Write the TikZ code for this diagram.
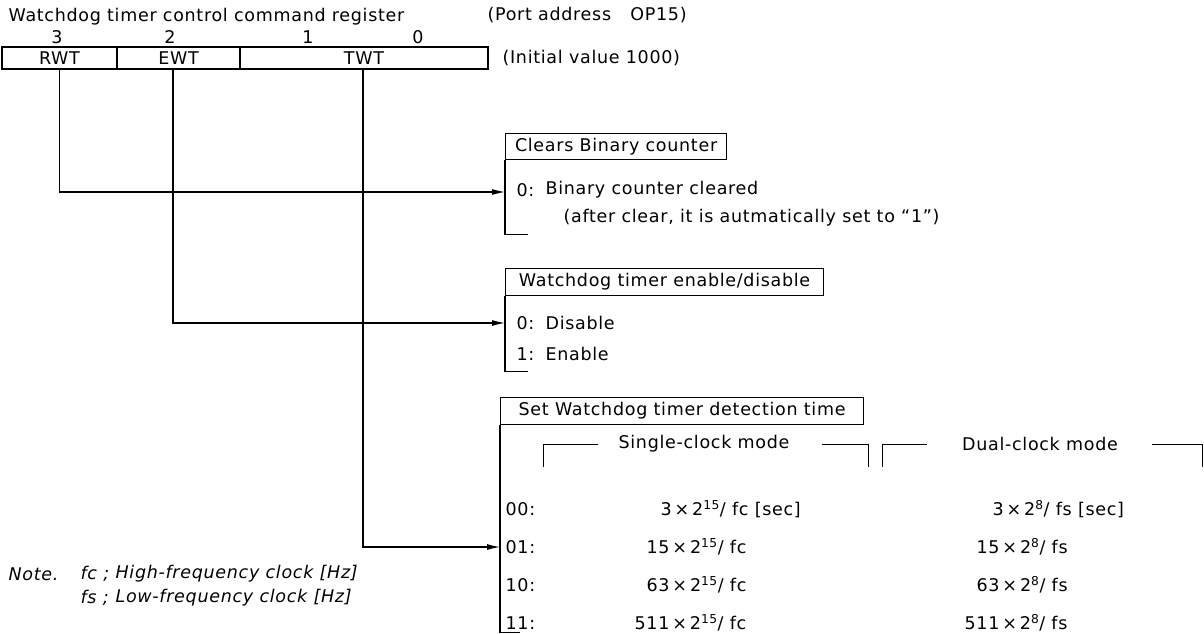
\documentclass[tikz,border=0pt]{standalone}
\usepackage{fontspec}
\setmainfont{DejaVu Sans}[LetterSpace=4]
\usetikzlibrary{arrows.meta}
\newcommand{\fsz}{\fontsize{17.5}{20}\selectfont}
\begin{document}
\begin{tikzpicture}[x=1pt,y=-1pt,line width=1.2pt,
  txt/.style={inner sep=0pt,anchor=west,font=\fsz},
  ctxt/.style={txt,anchor=center},
  itxt/.style={txt,font=\fsz\itshape},
  field/.style={draw,inner sep=0pt,minimum height=22pt,font=\fsz},
  hdr/.style={draw,inner sep=0pt,anchor=north west,font=\fsz},
  arr/.style={-{Latex[length=13pt,width=6pt]}},
  thin/.style={line width=1pt}]
\useasboundingbox (0,0) rectangle (1204,634);

% title
\node[txt] (title) at (8,17) {Watchdog timer control command register};
\node[txt] (port) at (487,15) {(Port address\hspace{1.1em}OP15)};

% bit numbers
\node[ctxt] (n3) at (57,37) {3};
\node[ctxt] (n2) at (170,37) {2};
\node[ctxt] (n1) at (308,37) {1};
\node[ctxt] (n0) at (418,37) {0};

% register
\node[field,minimum width=115pt] (rwt) at (59.5,58) {RWT};
\node[field,minimum width=123pt] (ewt) at (178.5,58) {EWT};
\node[field,minimum width=248pt] (twt) at (364,58) {TWT};
\node[txt] (init) at (502,58) {(Initial value 1000)};

% box 1
\node[hdr,minimum width=221pt,minimum height=26pt] (h1) at (505,133) {Clears Binary counter};
\draw (h1.south west) -- ++(0,74) -- ++(23,0);
\node[txt] (c0) at (516,190) {0:};
\node[txt] (c0t) at (545,190) {Binary counter cleared};
\node[txt] (c0n) at (563,218) {(after clear, it is autmatically set to “1”)};
\coordinate (b1in) at (505,192);

% box 2
\node[hdr,minimum width=318pt,minimum height=27pt] (h2) at (505,268) {Watchdog timer enable/disable};
\draw (h2.south west) -- ++(0,75) -- ++(23,0);
\node[txt] (e0) at (516,323) {0:};
\node[txt] (e0t) at (545,323) {Disable};
\node[txt] (e1) at (516,354) {1:};
\node[txt] (e1t) at (545,354) {Enable};
\coordinate (b2in) at (505,323);

% box 3
\node[hdr,minimum width=363pt,minimum height=27pt] (h3) at (500,397) {Set Watchdog timer detection time};
\draw (h3.south west) -- ++(0,207) -- ++(20,0);
\coordinate (b3in) at (500,547);

% mode brackets
\node[ctxt] (sc) at (704,444) {Single-clock mode};
\node[ctxt] (dc) at (1040,444) {Dual-clock mode};
\draw[thin] (543,467) -- (543,444) -- (598,444);
\draw[thin] (822,444) -- (868,444) -- (868,467);
\draw[thin] (882,467) -- (882,444) -- (927,444);
\draw[thin] (1152,444) -- (1202,444) -- (1202,467);

% rows
\node[txt] (r00) at (505,509) {00:};
\node[txt] (r01) at (505,547) {01:};
\node[txt] (r10) at (505,585) {10:};
\node[txt] (r11) at (505,623) {11:};
\node[txt] (s00) at (660,509) {3\,×\,2\textsuperscript{15}/ fc [sec]};
\node[txt] (s01) at (646,547) {15\,×\,2\textsuperscript{15}/ fc};
\node[txt] (s10) at (646,585) {63\,×\,2\textsuperscript{15}/ fc};
\node[txt] (s11) at (634,623) {511\,×\,2\textsuperscript{15}/ fc};
\node[txt] (d00) at (992,509) {3\,×\,2\textsuperscript{8}/ fs [sec]};
\node[txt] (d01) at (976,547) {15\,×\,2\textsuperscript{8}/ fs};
\node[txt] (d10) at (976,585) {63\,×\,2\textsuperscript{8}/ fs};
\node[txt] (d11) at (964,623) {511\,×\,2\textsuperscript{8}/ fs};

% connectors
\draw[arr] (rwt.south) |- (b1in);
\draw[arr] ([xshift=-5.5pt]ewt.south) |- (b2in);
\draw[arr] ([xshift=-1pt]twt.south) |- (b3in);

% note
\node[itxt] (note) at (8,574) {Note.};
\node[itxt] (fcn) at (80,574) {fc ;};
\node[itxt] (hf) at (115,574) {High-frequency clock [Hz]};
\node[itxt] (fsn) at (80,598) {fs ;};
\node[itxt] (lf) at (115,598) {Low-frequency clock [Hz]};
\end{tikzpicture}
\end{document}
